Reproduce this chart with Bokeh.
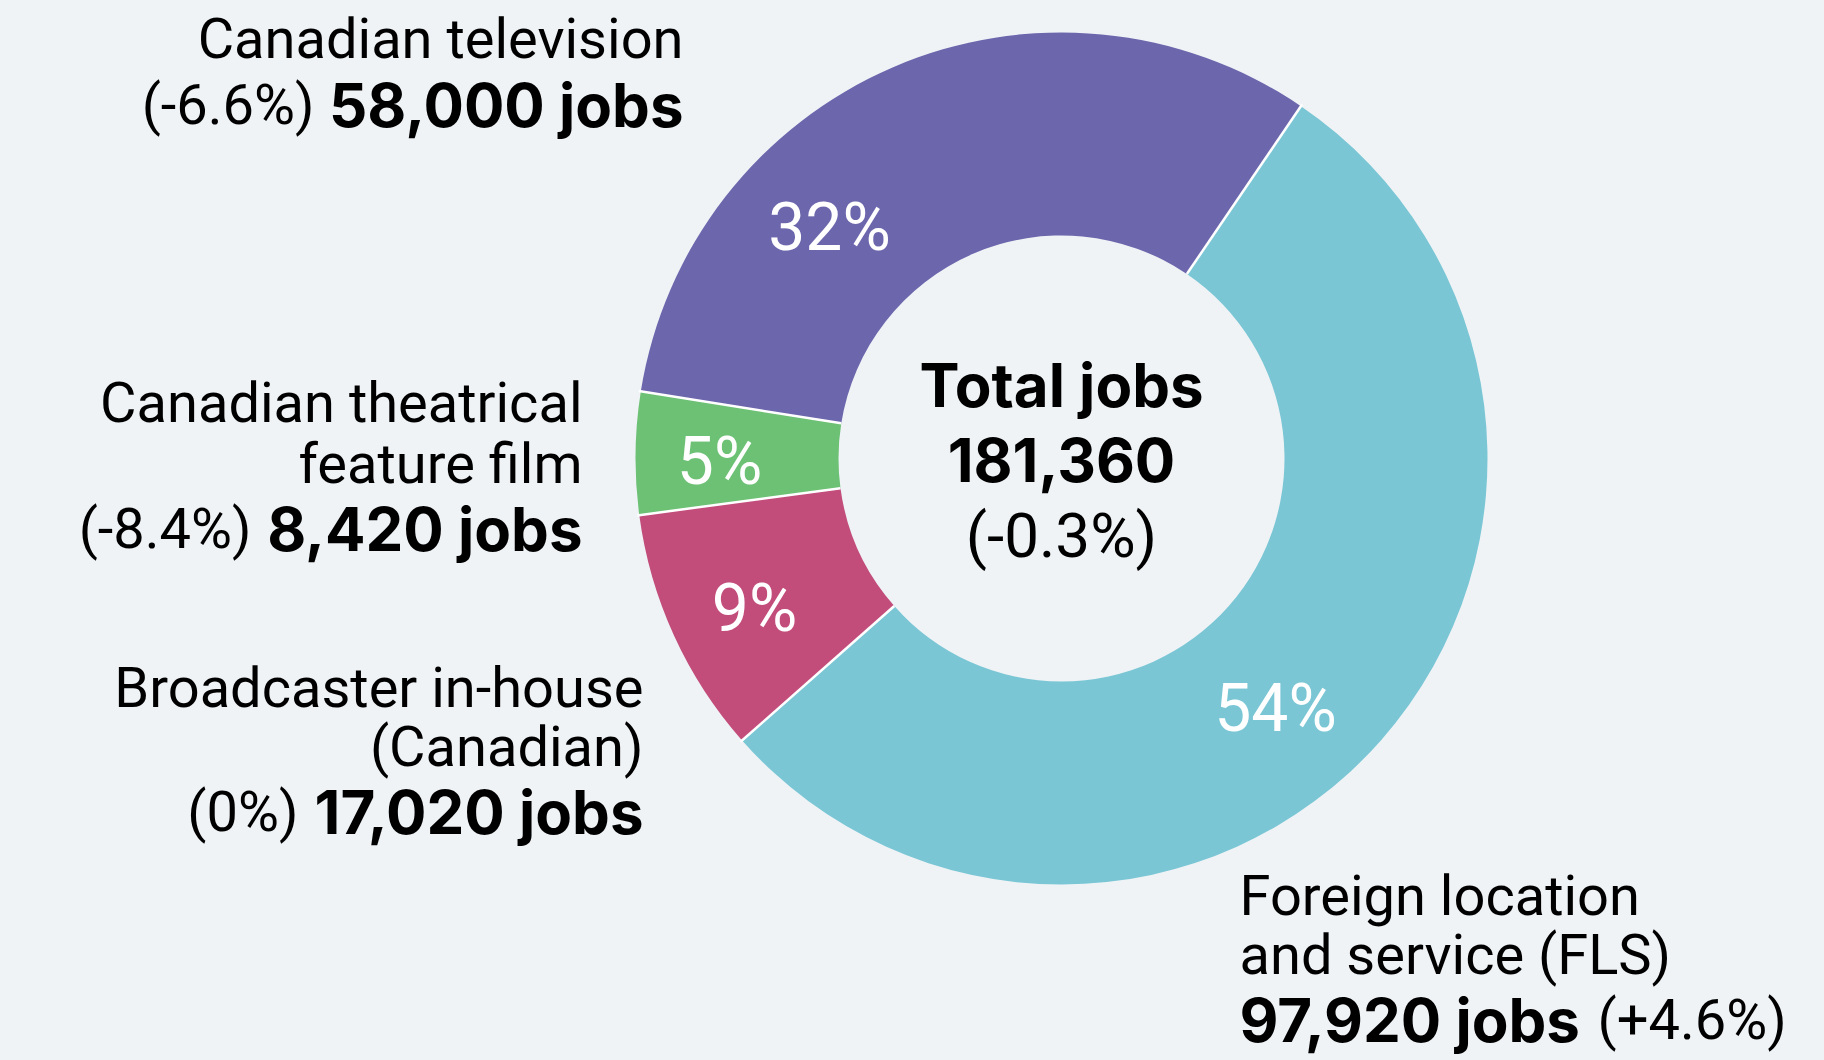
import numpy as np
from bokeh.plotting import figure
from bokeh.models import Range1d
from bokeh.embed import file_html
from bokeh.resources import INLINE
from bokeh.core.properties import value

# ---------------- data ----------------
categories = ["Canadian television", "Canadian theatrical feature film",
              "Broadcaster in-house (Canadian)", "Foreign location and service (FLS)"]
jobs = [58000, 8420, 17020, 97920]
changes = ["(-6.6%)", "(-8.4%)", "(0%)", "(+4.6%)"]
share_labels = ["32%", "5%", "9%", "54%"]
total_label = "181,360"
total_change = "(-0.3%)"

# ---------------- style ----------------
colors = ["#6c66ad", "#6dc175", "#c24d7b", "#7ac6d5"]
BG = "#eff3f6"
REG = "Roboto"
BOLD = "Inter"
W, H = 1824, 1060

def py(y):  # page y (top-down) -> data y
    return H - y

p = figure(width=W, height=H, output_backend="svg", toolbar_location=None,
           x_range=Range1d(0, W), y_range=Range1d(0, H),
           min_border=0, background_fill_color=BG, border_fill_color=BG)
p.axis.visible = False
p.grid.visible = False
p.outline_line_color = None

cx, cy = 1061, py(458)
R_out, R_in = 426, 223
start_deg = 55.8

vals = np.array(jobs, dtype=float)
fr = vals / vals.sum()
ang = np.deg2rad(start_deg) + 2 * np.pi * np.concatenate([[0], np.cumsum(fr)])
starts, ends = ang[:-1], ang[1:]

p.annular_wedge(x=cx, y=cy, inner_radius=R_in, outer_radius=R_out,
                start_angle=starts, end_angle=ends, fill_color=colors,
                line_color=None, direction="anticlock")
# white separators
p.segment(x0=cx + R_in * np.cos(starts), y0=cy + R_in * np.sin(starts),
          x1=cx + (R_out + 2) * np.cos(starts), y1=cy + (R_out + 2) * np.sin(starts),
          line_color="white", line_width=2.5)

def txt(x, y, s, align="left", bold=False, color="black", size="56px"):
    p.text(x=[x], y=[py(y)], text=[s], text_align=align, text_baseline="middle",
           text_font=value(BOLD if bold else REG),
           text_font_style="bold" if bold else "normal",
           text_color=color, text_font_size=size)

BS = "60px"   # bold label size

# percentage labels inside ring
pct_pos = [(829, 227), (719, 461), (754, 608), (1275, 708)]
for (x, y), s in zip(pct_pos, share_labels):
    txt(x, y, s, align="center", color="white", size="66px")

# center
txt(1061, 384, "Total jobs", align="center", bold=True, size="60px")
txt(1061, 459, total_label, align="center", bold=True, size="60px")
txt(1061, 535, total_change, align="center", size="62px")

def jobs_txt(v):
    return f"{v:,} jobs"

# Canadian television
txt(683, 38, "Canadian television", align="right")
txt(683, 104, jobs_txt(jobs[0]), align="right", bold=True, size=BS)
txt(314, 104, changes[0], align="right")

# Canadian theatrical feature film
txt(582, 402, "Canadian theatrical", align="right")
txt(582, 463, "feature film", align="right")
txt(582, 528, jobs_txt(jobs[1]), align="right", bold=True, size=BS)
txt(251, 528, changes[1], align="right")

# Broadcaster in-house
txt(643, 687, "Broadcaster in-house", align="right")
txt(643, 746, "(Canadian)", align="right")
txt(643, 811, jobs_txt(jobs[2]), align="right", bold=True, size=BS)
txt(298, 811, changes[2], align="right")

# FLS
txt(1239, 895, "Foreign location", align="left")
txt(1239, 954, "and service (FLS)", align="left")
txt(1239, 1019, jobs_txt(jobs[3]), align="left", bold=True, size=BS)
txt(1597, 1019, changes[3], align="left")

html = file_html(p, INLINE)
html = html.replace("<body>", '<body style="background-color:%s;">' % BG)
open("out.html", "w").write(html)
